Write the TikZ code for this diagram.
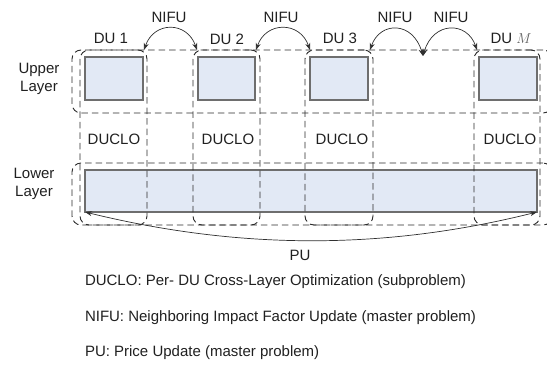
\documentclass[tikz,border=0pt]{standalone}
\usepackage{fontspec}
\setmainfont{Liberation Sans}
\usetikzlibrary{arrows.meta}
\definecolor{txt}{HTML}{202020}
\definecolor{dsh}{HTML}{2A2A2A}
\definecolor{bord}{HTML}{6E6E6E}
\definecolor{bfill}{HTML}{E2E9F5}
\definecolor{arc}{HTML}{303030}
\definecolor{mgray}{HTML}{606060}
\begin{document}
\begin{tikzpicture}[x=1pt,y=-1pt,
  every node/.style={font=\fontsize{15}{18}\selectfont, text=txt, inner sep=0pt, outer sep=0pt},
  dashbox/.style={draw=dsh, line width=0.9pt, dash pattern=on 6.5pt off 4pt, rounded corners=9pt, anchor=north west},
  bluebox/.style={draw=bord, fill=bfill, line width=1.3pt, anchor=north west},
  arr/.style={{Stealth[length=7pt,width=5pt]}-{Stealth[length=7pt,width=5pt]}, line width=0.7pt, draw=arc},
  lbl/.style={align=center}
]
\useasboundingbox (0,0) rectangle (547,365);

% blue boxes
\node[bluebox, minimum width=58pt, minimum height=43pt] (b1) at (85,57) {};
\node[bluebox, minimum width=57pt, minimum height=43pt] (b2) at (198,57) {};
\node[bluebox, minimum width=58pt, minimum height=43pt] (b3) at (310,57) {};
\node[bluebox, minimum width=58pt, minimum height=43pt] (bM) at (479,57) {};
\node[bluebox, minimum width=452pt, minimum height=42pt] (low) at (85,170) {};

% dashed layer groups
\node[dashbox, minimum width=480pt, minimum height=63pt] (ul) at (72,50) {};
\node[dashbox, minimum width=480pt, minimum height=62pt] (ll) at (72,163) {};

% dashed DU columns
\node[dashbox, minimum width=67pt, minimum height=175pt] (c1) at (80,50) {};
\node[dashbox, minimum width=67pt, minimum height=175pt] (c2) at (193,50) {};
\node[dashbox, minimum width=68pt, minimum height=175pt] (c3) at (305,50) {};
\node[dashbox, minimum width=66pt, minimum height=175pt] (cM) at (474,50) {};

% labels
\node[lbl] (uplab) at (39,79) {Upper\\Layer};
\node[lbl] (lolab) at (34,184) {Lower\\Layer};
\node (du1) at (111,38) {DU 1};
\node (du2) at (227,39) {DU 2};
\node (du3) at (340,38) {DU 3};
\node (duM) at (511,38) {DU \textcolor{mgray}{$M$}};
\node (d1) at (114,139) {DUCLO};
\node (d2) at (228,139) {DUCLO};
\node (d3) at (342,139) {DUCLO};
\node (dM) at (510,139) {DUCLO};
\node (n1) at (169,17) {NIFU};
\node (n2) at (281,17) {NIFU};
\node (n3) at (395,17) {NIFU};
\node (n4) at (451,17) {NIFU};
\node (pu) at (300,255) {PU};

% NIFU arcs
\coordinate (mid) at (423,56);
\draw[arr] ([xshift=-3pt]c1.north east) .. controls +(10,-29) and +(-10,-29) .. ([xshift=4pt]c2.north west);
\draw[arr] ([xshift=-4pt]c2.north east) .. controls +(10,-29) and +(-10,-29) .. ([xshift=5pt]c3.north west);
\draw[arr] ([xshift=-3pt]c3.north east) .. controls +(10,-29) and +(-10,-35) .. (mid);
\draw[arr] (mid) .. controls +(10,-35) and +(-10,-29) .. ([xshift=3pt]cM.north west);

% PU arc
\draw[arr] (low.south west) .. controls (240,250) and (385,250) .. (low.south east);

% legend
\node[anchor=west] (t1) at (85,282) {DUCLO: Per- DU Cross-Layer Optimization (subproblem)};
\node[anchor=west] (t2) at (85,318) {NIFU: Neighboring Impact Factor Update (master problem)};
\node[anchor=west] (t3) at (85,353) {PU: Price Update (master problem)};
\end{tikzpicture}
\end{document}
